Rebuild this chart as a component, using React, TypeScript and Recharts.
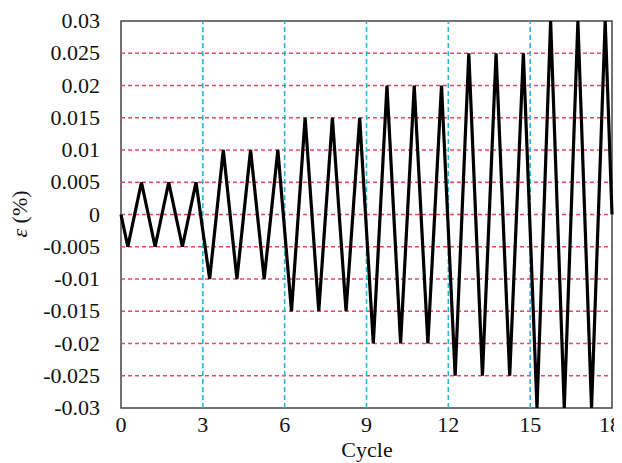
import {
  LineChart,
  Line,
  XAxis,
  YAxis,
  ReferenceLine,
  ReferenceArea,
} from "recharts";

// cycle position of each turning point
const cycle = [
  0, 0.25, 0.75, 1.25, 1.75, 2.25, 2.75, 3.25, 3.75, 4.25, 4.75, 5.25, 5.75,
  6.25, 6.75, 7.25, 7.75, 8.25, 8.75, 9.25, 9.75, 10.25, 10.75, 11.25, 11.75,
  12.25, 12.75, 13.25, 13.75, 14.25, 14.75, 15.25, 15.75, 16.25, 16.75, 17.25,
  17.75, 18,
];

// strain (%) at each turning point
const strain = [
  0, -0.005, 0.005, -0.005, 0.005, -0.005, 0.005, -0.01, 0.01, -0.01, 0.01,
  -0.01, 0.01, -0.015, 0.015, -0.015, 0.015, -0.015, 0.015, -0.02, 0.02, -0.02,
  0.02, -0.02, 0.02, -0.025, 0.025, -0.025, 0.025, -0.025, 0.025, -0.03, 0.03,
  -0.03, 0.03, -0.03, 0.03, 0,
];

const xTicks = [0, 3, 6, 9, 12, 15, 18];
const yTicks = [
  -0.03, -0.025, -0.02, -0.015, -0.01, -0.005, 0, 0.005, 0.01, 0.015, 0.02,
  0.025, 0.03,
];
const stageBreaks = [3, 6, 9, 12, 15];
const strainLines = [
  -0.025, -0.02, -0.015, -0.01, -0.005, 0, 0.005, 0.01, 0.015, 0.02, 0.025,
];

const font = '"Liberation Serif", "Times New Roman", "DejaVu Serif", serif';
const textStyle = { fontFamily: font, fontSize: 22, fill: "#111" };

function XTick({ x, y, payload }: any) {
  // last label sits against the page edge, so anchor it at its end
  const last = payload.value === xTicks[xTicks.length - 1];
  return (
    <text
      x={last ? x + 9 : x}
      y={y + 16}
      textAnchor={last ? "end" : "middle"}
      style={textStyle}
    >
      {payload.value}
    </text>
  );
}

function YTick({ x, y, payload }: any) {
  return (
    <text x={x - 13} y={y + 7} textAnchor="end" style={textStyle}>
      {payload.value}
    </text>
  );
}

export default function App() {
  const data = cycle.map((c, i) => ({ cycle: c, strain: strain[i] }));

  return (
    <div style={{ width: 622, height: 463, margin: "-8px 0 0 -8px", fontFamily: font }}>
      <LineChart
        width={622}
        height={463}
        data={data}
        margin={{ top: 21, right: 10, left: 0, bottom: 0 }}
      >
        {strainLines.map((y) => (
          <ReferenceLine
            key={"h" + y}
            y={y}
            stroke="#ee4560"
            strokeDasharray="4 3"
            strokeWidth={1.3}
          />
        ))}
        {stageBreaks.map((x) => (
          <ReferenceLine
            key={"v" + x}
            x={x}
            stroke="#2ab4e4"
            strokeDasharray="5 3"
            strokeWidth={1.6}
          />
        ))}
        <XAxis
          type="number"
          dataKey="cycle"
          domain={[0, 18]}
          ticks={xTicks}
          tickLine={false}
          axisLine={false}
          height={55}
          tick={<XTick />}
        />
        <YAxis
          type="number"
          domain={[-0.03, 0.03]}
          ticks={yTicks}
          interval={0}
          tickLine={false}
          axisLine={false}
          width={121}
          tick={<YTick />}
        />
        <ReferenceArea
          x1={0}
          x2={18}
          y1={-0.03}
          y2={0.03}
          fill="none"
          fillOpacity={0}
          stroke="#444"
          strokeWidth={1.5}
        />
        <Line
          type="linear"
          dataKey="strain"
          stroke="#000"
          strokeWidth={3.2}
          dot={false}
          isAnimationActive={false}
        />
        <text x={367} y={457} textAnchor="middle" style={textStyle}>
          Cycle
        </text>
        <text
          x={0}
          y={0}
          transform="translate(27 214) rotate(-90)"
          textAnchor="middle"
          style={textStyle}
        >
          <tspan fontStyle="italic">ε</tspan> (%)
        </text>
      </LineChart>
    </div>
  );
}
